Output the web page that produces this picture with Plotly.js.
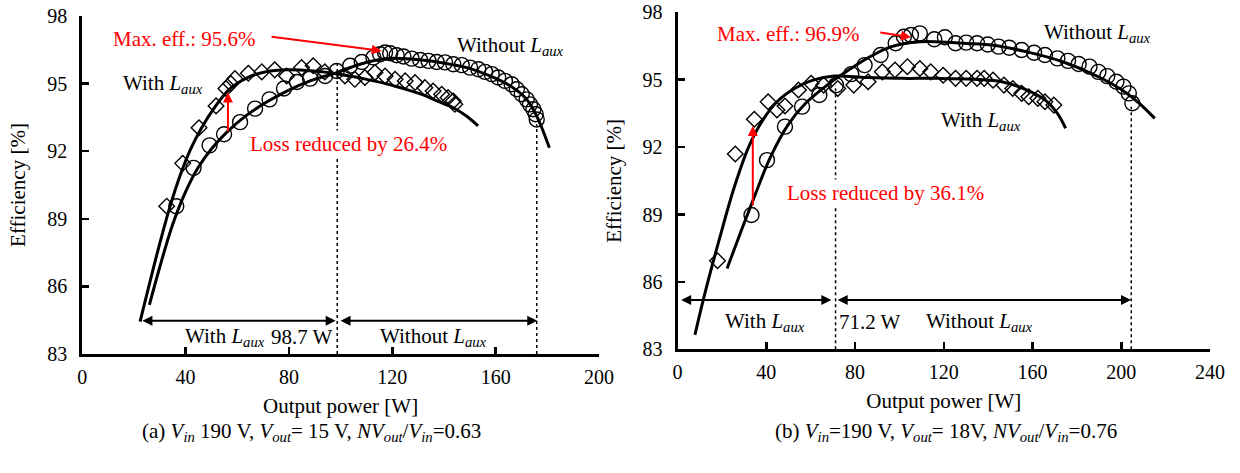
<!DOCTYPE html>
<html>
<head>
<meta charset="utf-8">
<script src="https://cdn.plot.ly/plotly-3.0.1.min.js"></script>
<style>html,body{margin:0;padding:0;background:#fff}#chart{width:1240px;height:473px}</style>
</head>
<body>
<div id="chart"></div>
<script>
// ---------- (a) Vout = 15 V ----------
const aWithP   = [32.7, 38.9, 45.2, 51.8, 55.6, 57.5, 59.1, 64.3, 69.5, 74.5, 79.1, 84.9, 89.4, 93.9, 101.7, 105.5, 109.4, 113.3, 117.2, 121.1, 125.0, 128.8, 132.6, 135.8, 139.1, 141.6, 143.6, 144.2];
const aWithEff = [89.56, 91.46, 93.04, 94.01, 94.78, 95.0, 95.22, 95.46, 95.52, 95.61, 95.34, 95.71, 95.79, 95.52, 95.34, 95.19, 95.27, 95.49, 95.34, 95.19, 95.12, 95.05, 94.82, 94.67, 94.53, 94.38, 94.23, 94.08];
const aWithoutP   = [36.4, 43.1, 49.3, 54.9, 61.1, 66.9, 72.5, 78.1, 83.1, 88.2, 94.0, 98.5, 103.7, 108.2, 112.7, 115.3, 117.2, 119.2, 121.7, 124.3, 127.5, 130.8, 134.0, 137.2, 140.4, 143.6, 146.9, 150.1, 153.3, 155.9, 158.5, 161.0, 163.6, 166.2, 168.2, 170.1, 172.0, 173.3, 174.6, 175.5, 175.9];
const aWithoutEff = [89.56, 91.26, 92.26, 92.75, 93.29, 93.89, 94.30, 94.78, 95.07, 95.22, 95.34, 95.56, 95.79, 95.96, 96.16, 96.3, 96.38, 96.35, 96.26, 96.2, 96.11, 96.05, 96.01, 95.96, 95.94, 95.86, 95.82, 95.71, 95.64, 95.52, 95.42, 95.27, 95.12, 94.97, 94.75, 94.53, 94.30, 94.08, 93.86, 93.64, 93.41];
const aWithFitP   = [22.4, 26.0, 30.0, 34.0, 38.0, 42.0, 46.0, 51.0, 57.0, 64.0, 71.0, 79.2, 89.5, 98.5, 108.8, 118.0, 126.0, 132.0, 137.5, 143.6, 148.7, 153.2];
const aWithFitEff = [84.44, 86.1, 87.9, 89.55, 90.95, 92.1, 93.0, 93.9, 94.75, 95.27, 95.52, 95.61, 95.56, 95.44, 95.22, 94.98, 94.72, 94.5, 94.22, 93.93, 93.56, 93.12];
const aWithoutFitP   = [26.0, 30.0, 35.0, 40.0, 45.0, 50.0, 56.0, 63.7, 71.4, 79.2, 88.2, 98.5, 107.5, 117.9, 128.2, 138.5, 148.8, 157.8, 165.6, 172.0, 175.9, 180.8];
const aWithoutFitEff = [85.18, 86.85, 88.75, 90.2, 91.3, 92.1, 92.85, 93.6, 94.18, 94.67, 95.12, 95.49, 95.86, 96.11, 96.08, 95.94, 95.71, 95.34, 94.9, 94.30, 93.56, 92.15];
const aBoundaryP = 98.7;     // W
const aMaxP = 175.9;         // W
const aMaxEffLabel = 95.6;   // %
const aLossReduced = 26.4;   // %

// ---------- (b) Vout = 18 V ----------
const bWithP   = [18.0, 26.0, 34.6, 40.8, 44.8, 48.4, 54.5, 60.2, 65.8, 72.2, 79.4, 85.9, 92.3, 98.0, 103.6, 109.2, 114.1, 119.7, 125.3, 130.1, 135.0, 138.2, 142.2, 147.1, 151.1, 155.1, 158.3, 162.4, 165.6, 169.6];
const bWithEff = [86.94, 91.69, 93.24, 94.02, 93.65, 93.83, 94.54, 94.84, 94.76, 94.61, 94.76, 94.91, 95.35, 95.43, 95.58, 95.5, 95.35, 95.2, 95.06, 95.06, 95.06, 95.06, 94.98, 94.76, 94.61, 94.39, 94.24, 94.17, 94.02, 93.87];
const bWithoutP   = [33.3, 40.3, 48.4, 56.1, 63.9, 71.4, 78.3, 84.3, 91.5, 98.3, 102.0, 105.2, 109.2, 115.7, 120.5, 125.3, 130.1, 135.0, 139.8, 144.7, 149.5, 155.1, 160.7, 165.6, 171.2, 176.0, 180.8, 185.7, 189.7, 193.7, 197.8, 201.0, 203.4, 205.0];
const bWithoutEff = [88.98, 91.42, 92.91, 93.8, 94.32, 94.76, 95.25, 95.65, 96.1, 96.62, 96.91, 96.99, 97.06, 96.8, 96.89, 96.62, 96.65, 96.62, 96.57, 96.47, 96.42, 96.32, 96.2, 96.1, 95.95, 95.84, 95.7, 95.58, 95.35, 95.16, 94.91, 94.69, 94.39, 93.95];
const bWithFitP   = [7.8, 12.7, 19.1, 25.5, 32.0, 38.4, 44.8, 52.9, 61.0, 70.6, 85.1, 101.2, 117.3, 133.4, 146.2, 157.5, 165.6, 171.2, 174.9];
const bWithFitEff = [83.64, 85.64, 88.0, 90.2, 92.0, 93.2, 94.02, 94.62, 94.98, 95.16, 95.1, 95.06, 95.06, 95.02, 94.91, 94.54, 94.1, 93.5, 92.84];
const bWithoutFitP   = [22.3, 28.8, 35.2, 41.6, 49.7, 57.7, 67.4, 77.1, 86.7, 96.4, 109.2, 125.3, 141.4, 157.5, 173.6, 189.7, 202.6, 209.0, 215.1];
const bWithoutFitEff = [86.6, 88.31, 89.94, 91.5, 92.98, 93.95, 94.76, 95.43, 96.02, 96.47, 96.69, 96.64, 96.54, 96.24, 95.8, 95.13, 94.39, 93.87, 93.28];
const bBoundaryP = 71.2;     // W
const bMaxP = 204.5;         // W
const bMaxEffLabel = 96.9;   // %
const bLossReduced = 36.1;   // %

// ---------- axis ticks ----------
const aXTicks = [0, 40, 80, 120, 160, 200];
const bXTicks = [0, 40, 80, 120, 160, 200, 240];
const yTicks  = [83, 86, 89, 92, 95, 98];

const FONT = 'Liberation Serif, "Times New Roman", serif';
const RED = '#ff0000';
const L = 'With <i>L<sub>aux</sub></i>';
const NL = 'Without <i>L<sub>aux</sub></i>';

function fit(x, y, xa, ya) {
  return {x: x, y: y, xaxis: xa, yaxis: ya, mode: 'lines', hoverinfo: 'skip',
          line: {color: '#000', width: 3, shape: 'spline', smoothing: 1}};
}
function pts(x, y, xa, ya, sym, size) {
  return {x: x, y: y, xaxis: xa, yaxis: ya, mode: 'markers',
          marker: {symbol: sym, size: size, color: '#000', line: {color: '#000', width: 1.4}}};
}
function vdot(xv, ytop, xa, ya) {
  return {x: [xv, xv], y: [83, ytop], xaxis: xa, yaxis: ya, mode: 'lines', hoverinfo: 'skip',
          line: {color: '#000', width: 1.5, dash: 'dot'}};
}

const traces = [
  vdot(aBoundaryP, 96.04, 'x', 'y'),
  vdot(aMaxP, 93.2, 'x', 'y'),
  fit(aWithFitP, aWithFitEff, 'x', 'y'),
  fit(aWithoutFitP, aWithoutFitEff, 'x', 'y'),
  pts(aWithP, aWithEff, 'x', 'y', 'diamond-open', 12),
  pts(aWithoutP, aWithoutEff, 'x', 'y', 'circle-open', 15),
  vdot(bBoundaryP, 94.76, 'x2', 'y2'),
  vdot(bMaxP, 93.8, 'x2', 'y2'),
  fit(bWithFitP, bWithFitEff, 'x2', 'y2'),
  fit(bWithoutFitP, bWithoutFitEff, 'x2', 'y2'),
  pts(bWithP, bWithEff, 'x2', 'y2', 'diamond-open', 12),
  pts(bWithoutP, bWithoutEff, 'x2', 'y2', 'circle-open', 15)
];

function axisX(domain, range, ticks, anchor) {
  return {domain: domain, range: range, anchor: anchor, tickvals: ticks, ticktext: ticks.map(String),
          ticks: 'inside', ticklen: 7, tickwidth: 2.5, tickcolor: '#000', ticklabelstandoff: 3,
          showline: true, linewidth: 3, linecolor: '#000', showgrid: false, zeroline: false,
          tickfont: {family: FONT, size: 20, color: '#000'}, automargin: false, fixedrange: true,
          title: {text: 'Output power [W]', font: {family: FONT, size: 21, color: '#000'}, standoff: 12}};
}
function axisY(domain, anchor) {
  return {domain: domain, range: [83, 98], anchor: anchor, tickvals: yTicks, ticktext: yTicks.map(String),
          ticks: 'inside', ticklen: 7, tickwidth: 2.5, tickcolor: '#000', ticklabelstandoff: 8,
          showline: true, linewidth: 3, linecolor: '#000', showgrid: false, zeroline: false,
          tickfont: {family: FONT, size: 20, color: '#000'}, automargin: false, fixedrange: true,
          title: {text: 'Efficiency [%]', font: {family: FONT, size: 21, color: '#000'}, standoff: 16}};
}

function txt(x, y, xr, yr, t, color, bg) {
  const a = {x: x, y: y, xref: xr, yref: yr, text: t, showarrow: false,
             font: {family: FONT, size: 21, color: color || '#000'}, xanchor: 'center', yanchor: 'middle'};
  if (bg) { a.bgcolor = bg; }
  return a;
}
function arrow(x, y, ax, ay, xr, yr, color, both) {
  const a = {x: x, y: y, ax: ax, ay: ay, xref: xr, yref: yr, axref: xr, ayref: yr, text: '',
             showarrow: true, arrowhead: 2, arrowsize: 1, arrowwidth: 2, arrowcolor: color};
  if (both) { a.arrowside = 'end+start'; a.startarrowhead = 2; a.startarrowsize = 1; }
  return a;
}

const annotations = [
  // (a)
  txt(39.4, 96.97, 'x', 'y', 'Max. eff.: ' + aMaxEffLabel + '%', RED),
  arrow(115.9, 96.45, 72.7, 97.09, 'x', 'y', RED),
  txt(31.1, 95.0, 'x', 'y', L),
  txt(165.7, 96.66, 'x', 'y', NL),
  arrow(56.4, 94.6, 56.4, 92.82, 'x', 'y', RED),
  txt(103, 92.3, 'x', 'y', 'Loss reduced by ' + aLossReduced + '%', RED, '#fff'),
  arrow(98.1, 84.48, 22.7, 84.48, 'x', 'y', '#000', true),
  arrow(176.1, 84.48, 99.4, 84.48, 'x', 'y', '#000', true),
  txt(55.3, 83.76, 'x', 'y', L),
  txt(85, 83.76, 'x', 'y', aBoundaryP + ' W'),
  txt(136.1, 83.76, 'x', 'y', NL),
  // (b)
  txt(49.8, 97.03, 'x2', 'y2', 'Max. eff.: ' + bMaxEffLabel + '%', RED),
  arrow(105.2, 96.89, 90.7, 97.11, 'x2', 'y2', RED),
  txt(189.5, 97.08, 'x2', 'y2', NL),
  txt(136.8, 93.16, 'x2', 'y2', L),
  arrow(33.9, 92.94, 33.9, 89.35, 'x2', 'y2', RED),
  txt(93.9, 89.96, 'x2', 'y2', 'Loss reduced by ' + bLossReduced + '%', RED, '#fff'),
  arrow(69.3, 85.19, 0.95, 85.19, 'x2', 'y2', '#000', true),
  arrow(204.4, 85.19, 71.5, 85.19, 'x2', 'y2', '#000', true),
  txt(39.4, 84.21, 'x2', 'y2', L),
  txt(86.7, 84.21, 'x2', 'y2', bBoundaryP + ' W'),
  txt(136.3, 84.21, 'x2', 'y2', NL),
  // captions
  txt(312 / 1240, 1 - 432 / 473, 'paper', 'paper',
      '(a) <i>V<sub>in</sub></i> 190 V, <i>V<sub>out</sub></i>= 15 V, <i>NV<sub>out</sub></i>/<i>V<sub>in</sub></i>=0.63'),
  txt(946 / 1240, 1 - 432 / 473, 'paper', 'paper',
      '(b) <i>V<sub>in</sub></i>=190 V, <i>V<sub>out</sub></i>= 18V, <i>NV<sub>out</sub></i>/<i>V<sub>in</sub></i>=0.76')
];

const layout = {
  width: 1240, height: 473, margin: {l: 0, r: 0, t: 0, b: 0},
  paper_bgcolor: '#fff', plot_bgcolor: '#fff', showlegend: false,
  font: {family: FONT, color: '#000'},
  xaxis: axisX([82.2 / 1240, 599 / 1240], [0, 200], aXTicks, 'y'),
  yaxis: axisY([1 - 354 / 473, 1 - 16 / 473], 'x'),
  xaxis2: axisX([677.6 / 1240, 1210 / 1240], [0, 240], bXTicks, 'y2'),
  yaxis2: axisY([1 - 349.3 / 473, 1 - 12.3 / 473], 'x2'),
  annotations: annotations
};

Plotly.newPlot('chart', traces, layout, {staticPlot: true, displayModeBar: false});
</script>
</body>
</html>
